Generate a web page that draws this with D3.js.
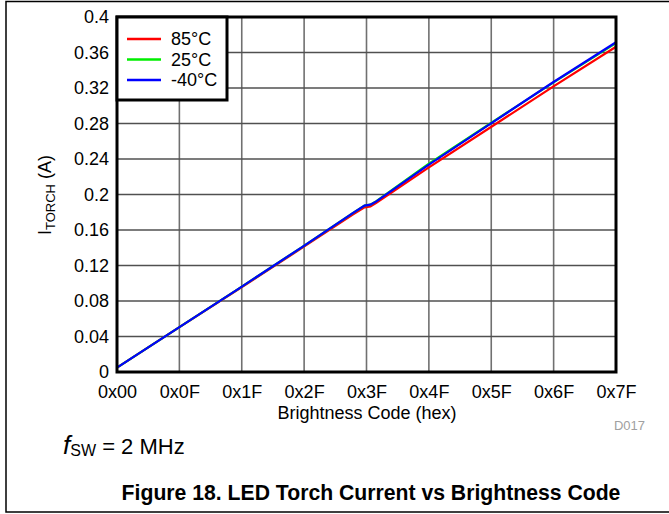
<!DOCTYPE html>
<html>
<head>
<meta charset="utf-8">
<script src="https://cdn.jsdelivr.net/npm/d3@7/dist/d3.min.js"></script>
<style>
    html, body { margin: 0; padding: 0; background: #fff; }
    svg { display: block; font-family: "Liberation Sans", Arial, sans-serif; }
</style>
</head>
<body>
<svg id="chart" width="669" height="514"></svg>
<script>
(function () {

    'use strict';

    // brightness codes (decimal) where values were read
    var codes = [0, 15, 31, 47, 60, 63, 64.5, 66, 79, 95, 111, 127];

    var current85 = [0.005, 0.048, 0.0935, 0.1395, 0.1775, 0.1855, 0.1865, 0.1905, 0.2295, 0.2755, 0.3215, 0.3665];
    var current25 = [0.005, 0.048, 0.094, 0.1405, 0.179, 0.1875, 0.1885, 0.1925, 0.2335, 0.2800, 0.3260, 0.3705];
    var currentM40 = [0.005, 0.048, 0.094, 0.1405, 0.179, 0.1875, 0.1885, 0.1922, 0.2325, 0.2795, 0.3265, 0.3715];

    var seriesNames = ['85°C', '25°C', '-40°C'];
    var seriesColors = ['#ff0000', '#00ee00', '#0000ff'];

    var xTickLabels = ['0x00', '0x0F', '0x1F', '0x2F', '0x3F', '0x4F', '0x5F', '0x6F', '0x7F'];
    var yTicks = [0, 0.04, 0.08, 0.12, 0.16, 0.2, 0.24, 0.28, 0.32, 0.36, 0.4];

    var plot = { left: 117, top: 17, right: 616, bottom: 372 };

    var svg = d3.select('#chart');

    // outer frame of the figure
    svg.append('path')
        .attr('d', 'M 669 1.5 H 6 V 512 H 669')
        .attr('fill', 'none')
        .attr('stroke', '#000')
        .attr('stroke-width', 1.5);

    var x = d3.scaleLinear().domain([0, 127]).range([plot.left, plot.right]);
    var y = d3.scaleLinear().domain([0, 0.4]).range([plot.bottom, plot.top]);

    var xTickValues = xTickLabels.map(function (d, i) { return i * 127 / 8; });

    // grid
    var grid = svg.append('g');

    grid.selectAll('.vgrid')
        .data(xTickValues.slice(1, -1))
        .enter()
        .append('line')
            .attr('x1', function (d) { return x(d); })
            .attr('x2', function (d) { return x(d); })
            .attr('y1', plot.top)
            .attr('y2', plot.bottom)
            .attr('stroke', '#707070')
            .attr('stroke-width', 1.6);

    grid.selectAll('.hgrid')
        .data(yTicks.slice(1, -1))
        .enter()
        .append('line')
            .attr('x1', plot.left)
            .attr('x2', plot.right)
            .attr('y1', function (d) { return y(d); })
            .attr('y2', function (d) { return y(d); })
            .attr('stroke', '#505050')
            .attr('stroke-width', 1.6);

    // axes (labels only)
    var xAxis = d3.axisBottom(x)
        .tickValues(xTickValues)
        .tickSize(0)
        .tickPadding(13)
        .tickFormat(function (d, i) { return xTickLabels[i]; });

    var yAxis = d3.axisLeft(y)
        .tickValues(yTicks)
        .tickSize(0)
        .tickPadding(8)
        .tickFormat(function (d) { return d3.format('~g')(d); });

    var gx = svg.append('g')
        .attr('transform', 'translate(0,' + plot.bottom + ')')
        .call(xAxis);

    var gy = svg.append('g')
        .attr('transform', 'translate(' + plot.left + ',0)')
        .call(yAxis);

    [gx, gy].forEach(function (g) {
        g.select('.domain').remove();
        g.selectAll('text')
            .attr('font-family', '"Liberation Sans", Arial, sans-serif')
            .attr('font-size', 18)
            .attr('fill', '#000');
    });

    // lines
    var seriesData = [current85, current25, currentM40];

    var line = d3.line()
        .x(function (d, i) { return x(codes[i]); })
        .y(function (d) { return y(d); });

    svg.append('g')
        .selectAll('path')
        .data(seriesData)
        .enter()
        .append('path')
            .attr('d', line)
            .attr('fill', 'none')
            .attr('stroke', function (d, i) { return seriesColors[i]; })
            .attr('stroke-width', 2.2);

    // plot frame
    svg.append('rect')
        .attr('x', plot.left)
        .attr('y', plot.top)
        .attr('width', plot.right - plot.left)
        .attr('height', plot.bottom - plot.top)
        .attr('fill', 'none')
        .attr('stroke', '#000')
        .attr('stroke-width', 3);

    // legend
    var legend = svg.append('g');

    legend.append('rect')
        .attr('x', plot.left)
        .attr('y', plot.top)
        .attr('width', 110)
        .attr('height', 83)
        .attr('fill', '#fff')
        .attr('stroke', '#000')
        .attr('stroke-width', 3);

    var legendItems = legend.selectAll('.item')
        .data(seriesNames)
        .enter()
        .append('g')
            .attr('transform', function (d, i) { return 'translate(0,' + (39 + i * 20.5) + ')'; });

    legendItems.append('line')
        .attr('x1', 127)
        .attr('x2', 161)
        .attr('stroke', function (d, i) { return seriesColors[i]; })
        .attr('stroke-width', 2.5);

    legendItems.append('text')
        .attr('x', 171)
        .attr('dy', '0.36em')
        .attr('font-size', 18)
        .text(function (d) { return d; });

    // axis titles
    var yTitle = svg.append('text')
        .attr('transform', 'translate(51,195) rotate(-90)')
        .attr('text-anchor', 'middle')
        .attr('font-size', 18);
    yTitle.append('tspan').text('I');
    yTitle.append('tspan').attr('font-size', 13).attr('dy', 4).text('TORCH');
    yTitle.append('tspan').attr('dy', -4).text(' (A)');

    svg.append('text')
        .attr('x', 367)
        .attr('y', 419)
        .attr('text-anchor', 'middle')
        .attr('font-size', 18)
        .text('Brightness Code (hex)');

    svg.append('text')
        .attr('x', 645)
        .attr('y', 430)
        .attr('text-anchor', 'end')
        .attr('font-size', 13)
        .attr('fill', '#a0a0a0')
        .text('D017');

    var fsw = svg.append('text')
        .attr('x', 63)
        .attr('y', 454)
        .attr('font-size', 22);
    fsw.append('tspan').attr('font-style', 'italic').attr('font-size', 26).text('f');
    fsw.append('tspan').attr('font-size', 16).attr('dy', 2).text('SW');
    fsw.append('tspan').attr('dy', -2).text(' = 2 MHz');

    svg.append('text')
        .attr('x', 371)
        .attr('y', 500)
        .attr('text-anchor', 'middle')
        .attr('font-size', 21.2)
        .attr('font-weight', 'bold')
        .text('Figure 18. LED Torch Current vs Brightness Code');

}());
</script>
</body>
</html>
